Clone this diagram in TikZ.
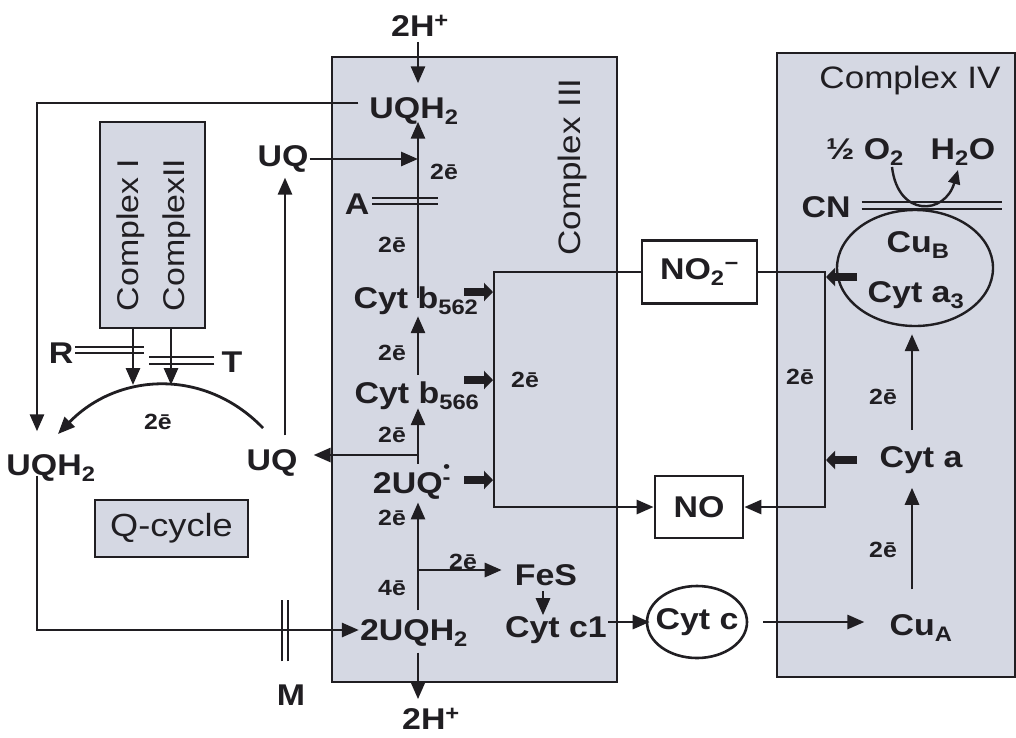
\documentclass[tikz,border=0pt]{standalone}
\usepackage{fontspec}
\setmainfont{Liberation Sans}[FakeStretch=1.13]
\usetikzlibrary{arrows.meta,shapes.geometric,calc}
\definecolor{boxfill}{RGB}{213,216,227}
\definecolor{ink}{RGB}{32,30,34}
\begin{document}
\begin{tikzpicture}[x=1pt,y=-1pt,
  lab/.style={font=\fontsize{30}{32}\selectfont\bfseries,inner sep=1pt,text=ink},
  el/.style={font=\fontsize{22}{24}\selectfont\bfseries,inner sep=1pt,text=ink},
  reg/.style={font=\fontsize{31}{33}\selectfont,inner sep=1pt,text=ink},
  ln/.style={draw=ink,line width=2.8pt},
  arr/.style={ln,-{Triangle[length=17pt,width=14pt]}},
  thk/.style={draw=ink,line width=8.5pt,-{Triangle[length=9pt,width=18pt]}},
  inh/.style={draw=ink,line width=2pt},
  cbox/.style={draw=ink,line width=2.2pt,fill=boxfill,inner sep=0pt},
  oval/.style={draw=ink,line width=2.6pt,ellipse,inner sep=0pt},
  tbox/.style={draw=ink,line width=2.8pt,fill=white},
]
\useasboundingbox (0,0) rectangle (1016,737);
\fill[white] (0,0) rectangle (1016,737);

% boxes
\node[cbox,minimum width=285pt,minimum height=625pt] (c3) at (474.5,369.5) {};
\node[cbox,minimum width=238pt,minimum height=624pt] (c4) at (896,365) {};
\node[cbox,minimum width=105pt,minimum height=206pt] (c12) at (152.5,225) {};
\node[cbox,minimum width=153pt,minimum height=57pt] (qc) at (171.5,528.5) {};

% reference columns
\coordinate (vl) at (418,0);
\coordinate (lc) at (37,0);
\coordinate (qx) at (285,0);
\coordinate (bx) at (494,0);
\coordinate (vr) at (825,0);
\coordinate (ax) at (912,0);
\coordinate (fx) at (543,0);

% titles
\node[reg,font=\fontsize{32}{34}\selectfont] (qct) at (qc) {Q-cycle};
\node[reg,rotate=90] (c3t) at (572,167) {Complex III};
\node[reg,rotate=90,font=\fontsize{30}{32}\selectfont] (c1t) at (131,235) {Complex I};
\node[reg,rotate=90,font=\fontsize{30}{32}\selectfont] (c2t) at (177,235) {ComplexII};
\node[reg] (c4t) at (910,80) {Complex IV};

% labels
\node[lab] (h2top) at (420,26) {2H\textsuperscript{+}};
\node[lab] (uqh2a) at (414,111) {UQH\textsubscript{2}};
\node[lab] (uqa) at (283,159) {UQ};
\node[lab] (A) at (357,204) {A};
\node[lab] (cb562) at (416,301) {Cyt b\textsubscript{562}};
\node[lab] (cb566) at (417,396) {Cyt b\textsubscript{566}};
\node[lab] (uqrad) at (412,482) {2UQ\textsuperscript{\ooalign{\hidewidth\raisebox{0.55em}{\scalebox{0.8}{•}}\hidewidth\cr -}}};
\node[lab] (fes) at (546,575) {FeS};
\node[lab] (cyc1) at (556,630) {Cyt c1};
\node[lab] (uqh2b) at (414,633) {2UQH\textsubscript{2}};
\node[lab] (h2bot) at (431,719) {2H\textsuperscript{+}};
\node[lab] (uqh2l) at (51,468) {UQH\textsubscript{2}};
\node[lab] (uqb) at (272,463) {UQ};
\node[lab] (R) at (61,353) {R};
\node[lab] (T) at (232,362) {T};
\node[lab] (M) at (291,695) {M};
\node[tbox,lab,minimum width=115pt,minimum height=63pt] (no2) at (699.5,272) {NO\textsubscript{2}\textsuperscript{−}};
\node[tbox,lab,minimum width=88pt,minimum height=62pt] (no) at (699,507) {NO};
\node[oval,minimum width=100pt,minimum height=72pt] (cytc) at (697,622) {};
\node[lab] (cytct) at (cytc) {Cyt c};
\node[lab] (cua) at (921,628) {Cu\textsubscript{A}};
\node[lab] (cyta) at (921,460) {Cyt a};
\node[oval,minimum width=156pt,minimum height=116pt,line width=2.4pt] (cub) at (915,268) {};
\node[lab] (cubt) at (918,245) {Cu\textsubscript{B}};
\node[lab] (cya3) at (916,295) {Cyt a\textsubscript{3}};
\node[lab] (cn) at (826,207) {CN};
\node[lab] (o2) at (865,152) {½ O\textsubscript{2}};
\node[lab] (h2o) at (963,152) {H\textsubscript{2}O};

% electron labels
\node[el] (e1) at (444,172) {2ē};
\node[el] (e2) at (392,245) {2ē};
\node[el] (e3) at (392,353) {2ē};
\node[el] (e4) at (392,435) {2ē};
\node[el] (e5) at (392,518) {2ē};
\node[el] (e6) at (463,562) {2ē};
\node[el] (e7) at (392,588) {4ē};
\node[el] (e8) at (525,380) {2ē};
\node[el] (e9) at (800,377) {2ē};
\node[el] (e10) at (883,397) {2ē};
\node[el] (e11) at (883,550) {2ē};
\node[el] (e12) at (158,422) {2ē};

% main column connectors
\draw[arr,shorten <=4pt,shorten >=13pt] (h2top.south -| vl) -- (uqh2a.north -| vl);
\draw[arr,shorten <=-12pt,shorten >=-4pt] (cb562.north -| vl) -- (uqh2a.south -| vl);
\draw[arr] (uqa.east) -- (uqa.east -| vl);
\draw[arr,shorten <=10pt,shorten >=22pt] ($(uqh2a.west)+(0,-8)$) -| (uqh2l.north -| lc);
\draw[arr,shorten <=-7pt] (uqh2l.south -| lc) |- ($(uqh2b.west)+(0,-3)$);
\draw[arr,shorten <=13pt,shorten >=4pt] (uqb.north -| qx) -- (uqa.south -| qx);
\draw[arr,shorten >=15pt] ($(uqb.east -| vl)+(0,-8)$) -- ($(uqb.east)+(0,-8)$);
\draw[arr,shorten <=6pt,shorten >=0pt] (cb566.north -| vl) -- (cb562.south -| vl);
\draw[arr,shorten >=-3pt] (uqrad.north -| vl) -- (cb566.south -| vl);
\draw[arr,shorten <=8pt,shorten >=2pt] (uqh2b.north -| vl) -- (uqrad.south -| vl);
\draw[arr,shorten >=12pt] ($(fes.west -| vl)+(0,-5)$) -- ($(fes.west)+(0,-5)$);
\draw[arr,shorten <=4pt] (fes.south -| fx) -- (cyc1.north -| fx);
\draw[arr,shorten <=5pt,shorten >=8pt] (uqh2b.south -| vl) -- (h2bot.north -| vl);

% cytochrome c path
\draw[arr,shorten >=-4pt] (cyc1.east |- cytc) -- (cytc.west);
\draw[arr,shorten <=15pt,shorten >=24pt] (cytc.east) -- (cua.west |- cytc);
\draw[arr,shorten <=24pt,shorten >=13pt] (cua.north -| ax) -- (cyta.south -| ax);
\draw[arr,shorten <=15pt,shorten >=7pt] (cyta.north -| ax) -- (cub.south -| ax);

% nitrite / NO brackets
\draw[arr] (no2.west) -- (no2.west -| bx) -- (no.west -| bx) -- (no.west);
\draw[arr] (no2.east) -- (no2.east -| vr) -- (no.east -| vr) -- (no.east);

% thick arrows
\draw[thk] ($(cb562.center -| bx)+(-30,-9)$) -- ($(cb562.center -| bx)+(-1,-9)$);
\draw[thk] ($(cb566.center -| bx)+(-30,-16)$) -- ($(cb566.center -| bx)+(-1,-16)$);
\draw[thk] ($(uqrad.center -| bx)+(-30,-2)$) -- ($(uqrad.center -| bx)+(-1,-2)$);
\draw[thk] ($(cub.center -| vr)+(32,9)$) -- ($(cub.center -| vr)+(1,9)$);
\draw[thk] ($(cyta.center -| vr)+(32,0)$) -- ($(cyta.center -| vr)+(1,0)$);

% Complex I / II
\coordinate (ar1) at (133,385);
\coordinate (ar2) at (171,385);
\draw[arr] (c12.south -| ar1) -- (ar1);
\draw[arr] (c12.south -| ar2) -- (ar2);
\coordinate (arcs) at (263,428);
\coordinate (arce) at (58,434);
\draw[arr] (arcs) .. controls (204,367) and (117,373) .. (arce);

% oxygen
\coordinate (o2s) at (892,167);
\coordinate (h2oe) at (958,170);
\draw[draw=ink,line width=2.4pt,-{Triangle[length=14pt,width=12pt]}] (o2s) .. controls (898,218) and (945,215) .. (h2oe);

% inhibitors
\draw[inh] ($(A.east)+(2,-6)$) -- ++(66,0);
\draw[inh] ($(A.east)+(2,0)$) -- ++(66,0);
\draw[inh] ($(R.east)+(1,-6)$) -- ++(69,0);
\draw[inh] ($(R.east)+(1,0)$) -- ++(69,0);
\draw[inh] ($(T.west)+(-6,-5)$) -- ++(-65,0);
\draw[inh] ($(T.west)+(-6,2)$) -- ++(-65,0);
\draw[inh] ($(cn.east)+(10,-5)$) -- ++(140,0);
\draw[inh] ($(cn.east)+(10,2)$) -- ++(140,0);
\draw[inh] ($(M.north)+(-9.5,-22)$) -- ++(0,-61);
\draw[inh] ($(M.north)+(-3,-22)$) -- ++(0,-61);
\end{tikzpicture}
\end{document}
